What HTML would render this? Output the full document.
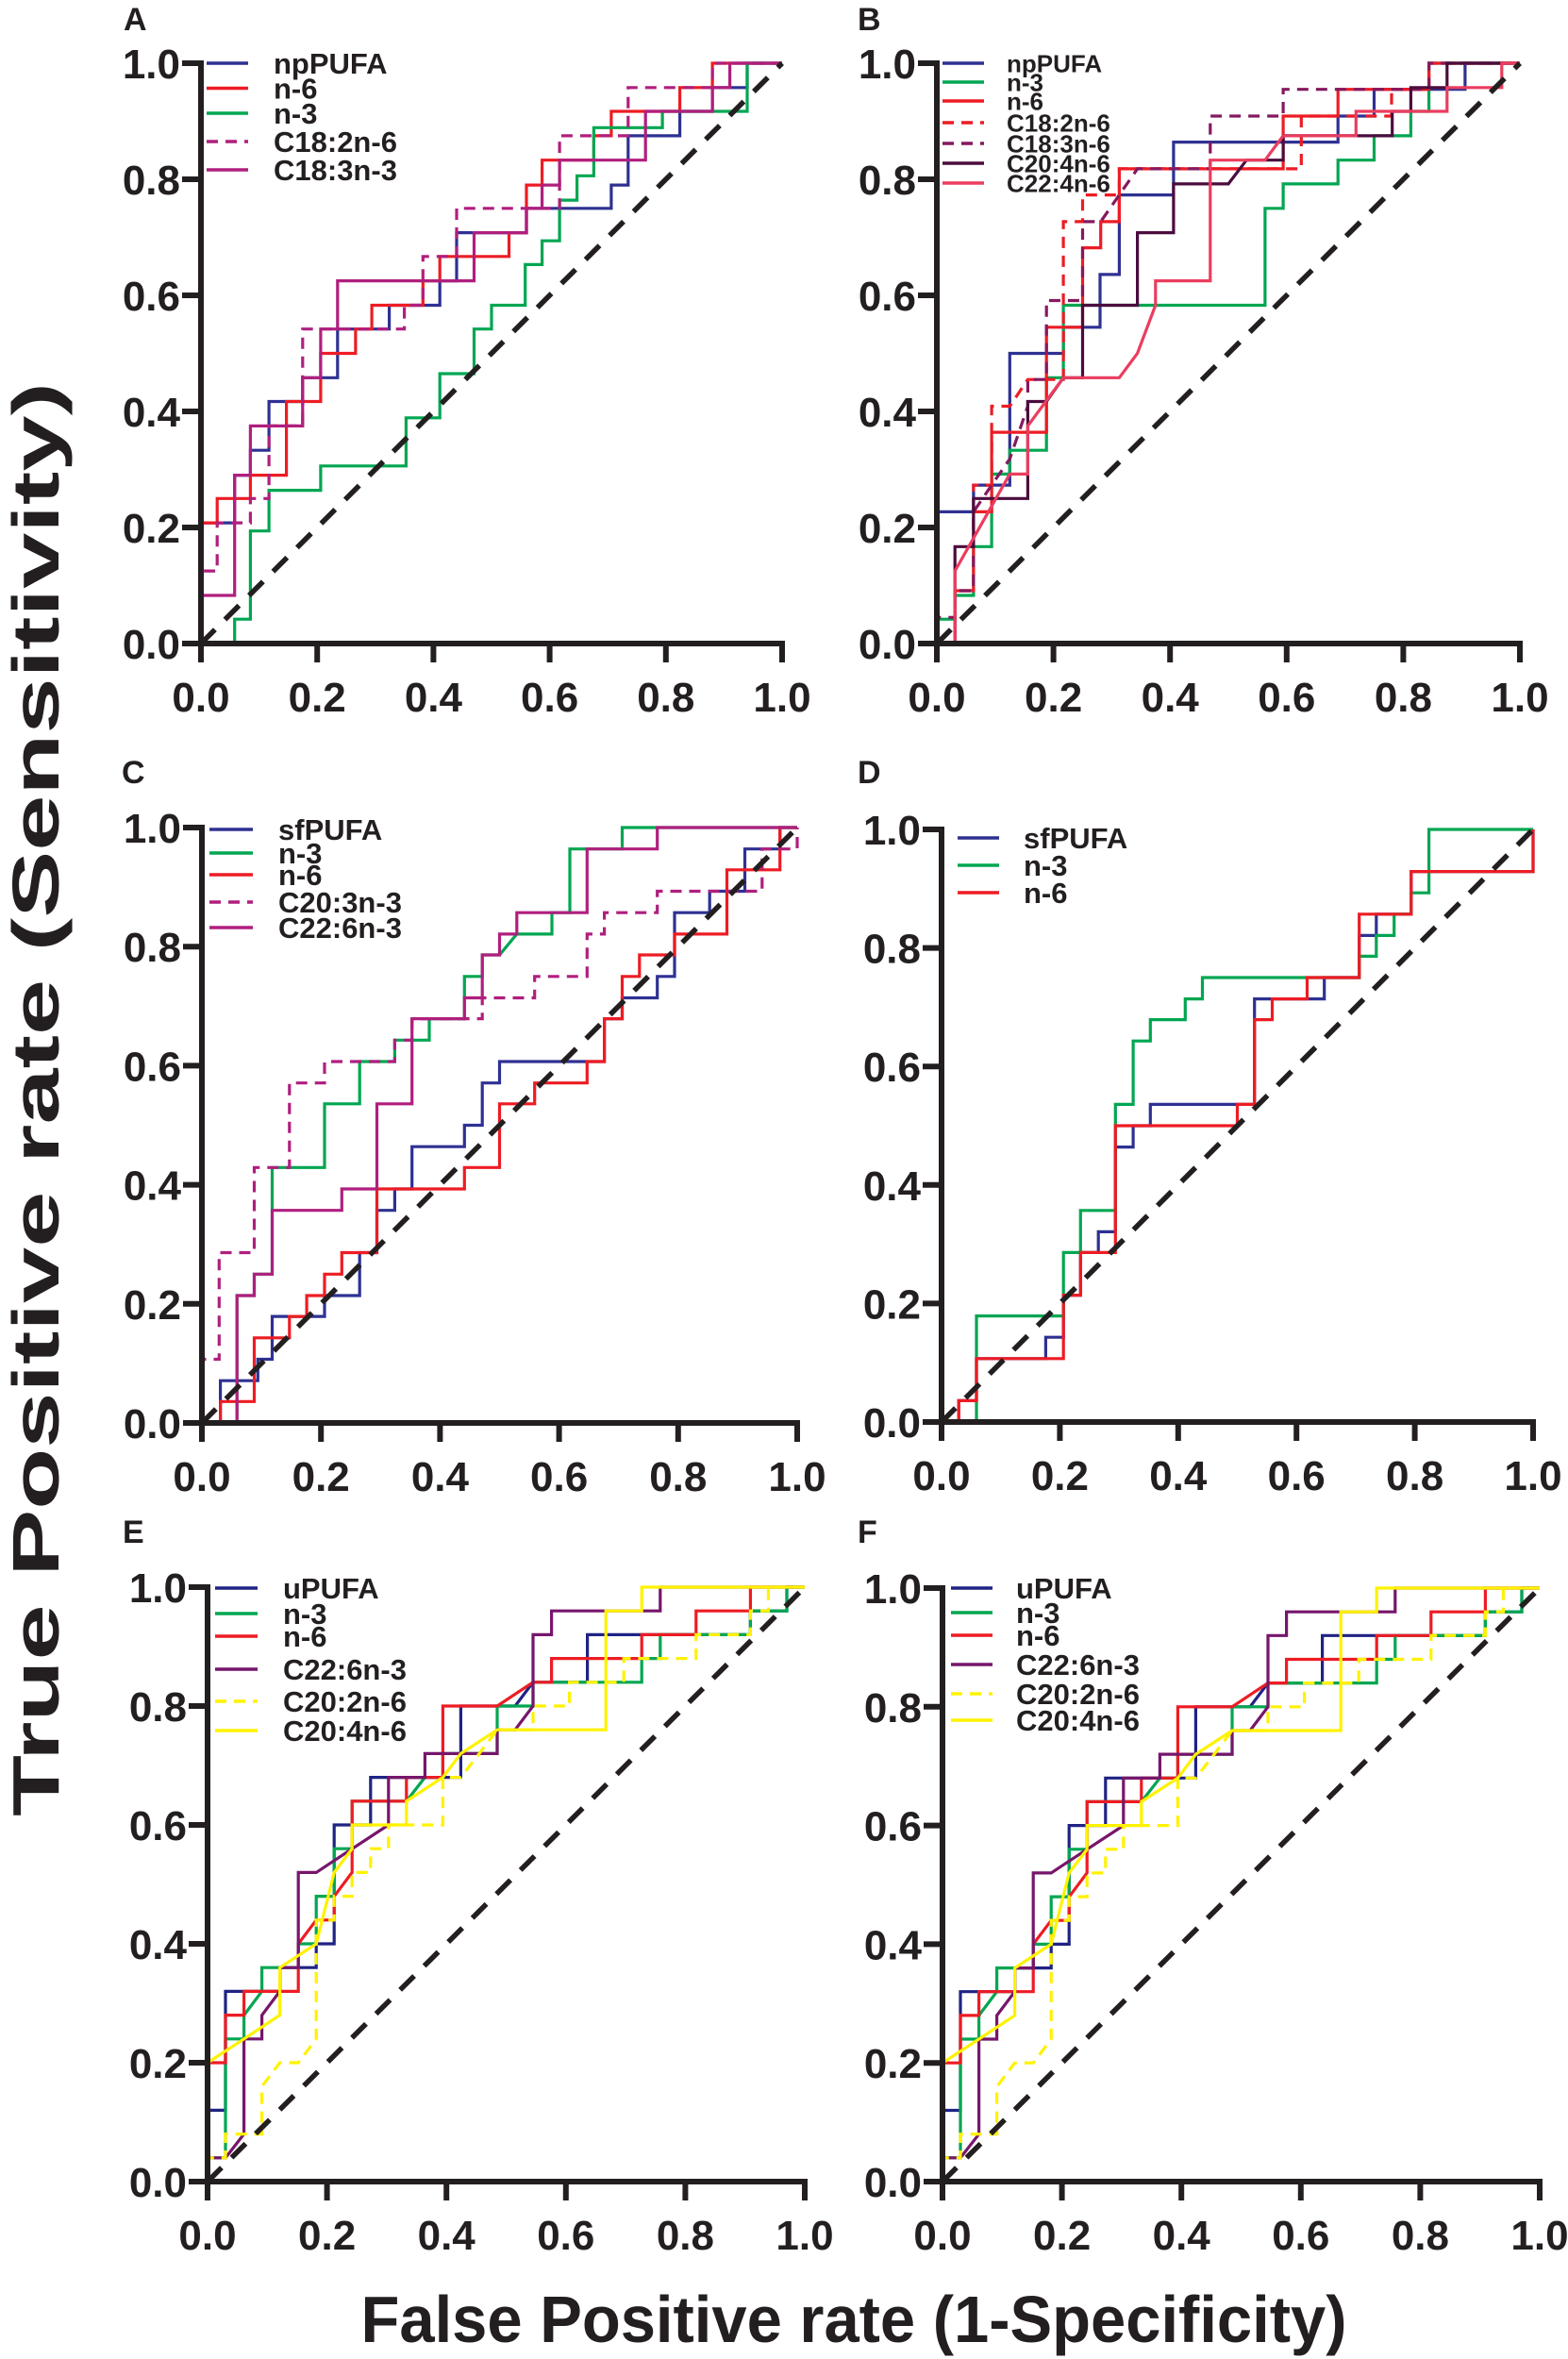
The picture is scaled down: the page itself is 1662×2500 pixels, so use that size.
<!DOCTYPE html>
<html><head><meta charset="utf-8"><style>
html,body{margin:0;padding:0;background:#fff}
svg{display:block}
text{font-family:"Liberation Sans",Arial,sans-serif;font-weight:bold;fill:#231f20}
</style></head><body>
<svg id="fig" width="1662" height="2500" viewBox="0 0 1662 2500" xmlns="http://www.w3.org/2000/svg">
<text x="0" y="0" font-size="70" text-anchor="middle" transform="translate(62,1165) rotate(-90)" textLength="1520" lengthAdjust="spacingAndGlyphs">True Positive rate (Sensitivity)</text>
<text x="905" y="2482" font-size="70" text-anchor="middle" textLength="1045" lengthAdjust="spacingAndGlyphs">False Positive rate (1-Specificity)</text>
</svg>
<script>
// ---- data: tick labels ----
const tickValues = [0, 0.2, 0.4, 0.6, 0.8, 1.0];
const tickLabels = ["0.0", "0.2", "0.4", "0.6", "0.8", "1.0"];
const diagonal = [[0,0],[1,1]];

// ---- Panel A ----
const A_npPUFA = [[0,0],[0,0.208],[0.058,0.208],[0.058,0.29],[0.085,0.29],[0.085,0.333],[0.117,0.333],[0.117,0.417],[0.175,0.417],[0.175,0.458],[0.235,0.458],[0.235,0.542],[0.324,0.542],[0.324,0.583],[0.411,0.583],[0.411,0.625],[0.44,0.625],[0.44,0.708],[0.56,0.708],[0.56,0.75],[0.706,0.75],[0.706,0.79],[0.735,0.79],[0.735,0.875],[0.824,0.875],[0.824,0.917],[0.88,0.917],[0.88,0.958],[0.94,0.958],[0.94,1],[1,1]];
const A_n6 = [[0,0],[0,0.208],[0.028,0.208],[0.028,0.25],[0.085,0.25],[0.085,0.29],[0.147,0.29],[0.147,0.417],[0.206,0.417],[0.206,0.5],[0.266,0.5],[0.266,0.542],[0.294,0.542],[0.294,0.583],[0.382,0.583],[0.382,0.625],[0.411,0.625],[0.411,0.667],[0.53,0.667],[0.53,0.708],[0.56,0.708],[0.56,0.79],[0.587,0.79],[0.587,0.833],[0.676,0.833],[0.676,0.875],[0.706,0.875],[0.706,0.917],[0.824,0.917],[0.824,0.958],[0.88,0.958],[0.88,1],[1,1]];
const A_n3 = [[0,0],[0.058,0],[0.058,0.042],[0.085,0.042],[0.085,0.194],[0.117,0.194],[0.117,0.264],[0.206,0.264],[0.206,0.306],[0.353,0.306],[0.353,0.389],[0.411,0.389],[0.411,0.465],[0.47,0.465],[0.47,0.542],[0.5,0.542],[0.5,0.583],[0.558,0.583],[0.558,0.653],[0.587,0.653],[0.587,0.694],[0.617,0.694],[0.617,0.764],[0.647,0.764],[0.647,0.806],[0.676,0.806],[0.676,0.889],[0.794,0.889],[0.794,0.917],[0.94,0.917],[0.94,1],[1,1]];
const A_c182 = [[0,0],[0,0.125],[0.028,0.125],[0.028,0.208],[0.085,0.208],[0.085,0.25],[0.117,0.25],[0.117,0.375],[0.175,0.375],[0.175,0.542],[0.35,0.542],[0.35,0.583],[0.382,0.583],[0.382,0.667],[0.44,0.667],[0.44,0.75],[0.617,0.75],[0.617,0.875],[0.735,0.875],[0.735,0.958],[0.88,0.958],[0.88,1],[1,1]];
const A_c183 = [[0,0],[0,0.083],[0.058,0.083],[0.058,0.29],[0.085,0.29],[0.085,0.375],[0.175,0.375],[0.175,0.458],[0.206,0.458],[0.206,0.542],[0.235,0.542],[0.235,0.625],[0.47,0.625],[0.47,0.708],[0.56,0.708],[0.56,0.75],[0.587,0.75],[0.587,0.79],[0.617,0.79],[0.617,0.833],[0.765,0.833],[0.765,0.917],[0.88,0.917],[0.88,0.958],[0.91,0.958],[0.91,1],[1,1]];

// ---- Panel B ----
const B_npPUFA = [[0,0],[0,0.227],[0.063,0.227],[0.063,0.273],[0.125,0.273],[0.125,0.5],[0.217,0.5],[0.217,0.545],[0.28,0.545],[0.28,0.636],[0.313,0.636],[0.313,0.773],[0.406,0.773],[0.406,0.864],[0.688,0.864],[0.688,0.909],[0.75,0.909],[0.75,0.955],[0.906,0.955],[0.906,1],[1,1]];
const B_n3 = [[0,0],[0,0.042],[0.031,0.042],[0.031,0.083],[0.063,0.083],[0.063,0.167],[0.094,0.167],[0.094,0.292],[0.125,0.292],[0.125,0.333],[0.188,0.333],[0.188,0.458],[0.217,0.458],[0.217,0.583],[0.563,0.583],[0.563,0.75],[0.594,0.75],[0.594,0.792],[0.688,0.792],[0.688,0.833],[0.75,0.833],[0.75,0.875],[0.813,0.875],[0.813,0.917],[0.844,0.917],[0.844,1],[1,1]];
const B_n6 = [[0,0],[0.031,0],[0.031,0.091],[0.063,0.091],[0.063,0.227],[0.094,0.227],[0.094,0.364],[0.188,0.364],[0.188,0.545],[0.25,0.545],[0.25,0.682],[0.281,0.682],[0.281,0.727],[0.313,0.727],[0.313,0.818],[0.594,0.818],[0.594,0.909],[0.688,0.909],[0.688,0.955],[0.844,0.955],[0.844,1],[1,1]];
const B_c182 = [[0,0],[0.031,0],[0.031,0.091],[0.063,0.091],[0.063,0.273],[0.094,0.273],[0.094,0.409],[0.125,0.409],[0.156,0.455],[0.217,0.455],[0.217,0.727],[0.25,0.727],[0.25,0.773],[0.313,0.773],[0.313,0.818],[0.625,0.818],[0.625,0.909],[0.78,0.909],[0.78,0.955],[0.844,0.955],[0.844,1],[1,1]];
const B_c183 = [[0,0],[0,0.045],[0.031,0.045],[0.031,0.091],[0.063,0.091],[0.063,0.227],[0.094,0.273],[0.125,0.318],[0.156,0.409],[0.156,0.455],[0.188,0.455],[0.188,0.591],[0.25,0.591],[0.25,0.727],[0.281,0.727],[0.344,0.818],[0.469,0.818],[0.469,0.909],[0.594,0.909],[0.594,0.955],[0.844,0.955],[0.844,1],[1,1]];
const B_c204 = [[0,0],[0.031,0],[0.031,0.167],[0.063,0.167],[0.063,0.25],[0.156,0.25],[0.156,0.417],[0.188,0.417],[0.217,0.458],[0.25,0.458],[0.25,0.583],[0.344,0.583],[0.344,0.708],[0.406,0.708],[0.406,0.792],[0.5,0.792],[0.531,0.833],[0.594,0.833],[0.594,0.875],[0.781,0.875],[0.781,0.917],[0.813,0.917],[0.813,0.958],[0.875,0.958],[0.875,1],[1,1]];
const B_c224 = [[0,0],[0.031,0],[0.031,0.125],[0.125,0.292],[0.156,0.292],[0.156,0.375],[0.217,0.458],[0.313,0.458],[0.344,0.5],[0.375,0.583],[0.375,0.625],[0.469,0.625],[0.469,0.833],[0.563,0.833],[0.594,0.875],[0.719,0.875],[0.719,0.917],[0.875,0.917],[0.875,0.958],[0.969,0.958],[0.969,1],[1,1]];

// ---- Panel C ----
const C_sfPUFA = [[0,0],[0.031,0],[0.031,0.071],[0.094,0.071],[0.094,0.107],[0.118,0.107],[0.118,0.179],[0.206,0.179],[0.206,0.214],[0.265,0.214],[0.265,0.286],[0.294,0.286],[0.294,0.357],[0.324,0.357],[0.324,0.393],[0.353,0.393],[0.353,0.464],[0.441,0.464],[0.441,0.5],[0.471,0.5],[0.471,0.571],[0.5,0.571],[0.5,0.607],[0.676,0.607],[0.676,0.679],[0.706,0.679],[0.706,0.714],[0.765,0.714],[0.765,0.75],[0.794,0.75],[0.794,0.857],[0.853,0.857],[0.853,0.893],[0.912,0.893],[0.912,0.964],[0.971,0.964],[0.971,1],[1,1]];
const C_n3 = [[0,0],[0.059,0],[0.059,0.214],[0.088,0.214],[0.088,0.25],[0.118,0.25],[0.118,0.429],[0.206,0.429],[0.206,0.536],[0.265,0.536],[0.265,0.607],[0.324,0.607],[0.324,0.643],[0.382,0.643],[0.382,0.679],[0.441,0.679],[0.441,0.75],[0.471,0.75],[0.471,0.786],[0.5,0.786],[0.529,0.821],[0.588,0.821],[0.588,0.857],[0.618,0.857],[0.618,0.964],[0.706,0.964],[0.706,1],[1,1]];
const C_n6 = [[0,0],[0.031,0],[0.031,0.036],[0.088,0.036],[0.088,0.143],[0.147,0.143],[0.147,0.179],[0.176,0.179],[0.176,0.214],[0.206,0.214],[0.206,0.25],[0.235,0.25],[0.235,0.286],[0.294,0.286],[0.294,0.393],[0.441,0.393],[0.441,0.429],[0.5,0.429],[0.5,0.536],[0.559,0.536],[0.559,0.571],[0.647,0.571],[0.647,0.607],[0.676,0.607],[0.676,0.679],[0.706,0.679],[0.706,0.75],[0.735,0.75],[0.735,0.786],[0.794,0.786],[0.794,0.821],[0.882,0.821],[0.882,0.929],[0.971,0.929],[0.971,1],[1,1]];
const C_c203 = [[0,0],[0,0.107],[0.029,0.107],[0.029,0.286],[0.088,0.286],[0.088,0.429],[0.147,0.429],[0.147,0.571],[0.206,0.571],[0.206,0.607],[0.324,0.607],[0.324,0.643],[0.353,0.643],[0.353,0.679],[0.471,0.679],[0.471,0.714],[0.559,0.714],[0.559,0.75],[0.647,0.75],[0.647,0.821],[0.676,0.821],[0.676,0.857],[0.765,0.857],[0.765,0.893],[0.941,0.893],[0.941,0.964],[1,0.964],[1,1]];
const C_c226 = [[0,0],[0.059,0],[0.059,0.214],[0.088,0.214],[0.088,0.25],[0.118,0.25],[0.118,0.357],[0.235,0.357],[0.235,0.393],[0.294,0.393],[0.294,0.536],[0.353,0.536],[0.353,0.679],[0.441,0.679],[0.441,0.714],[0.471,0.714],[0.471,0.786],[0.5,0.786],[0.5,0.821],[0.529,0.821],[0.529,0.857],[0.647,0.857],[0.647,0.964],[0.765,0.964],[0.765,1],[1,1]];

// ---- Panel D ----
const D_sfPUFA = [[0,0],[0.029,0],[0.029,0.036],[0.059,0.036],[0.059,0.107],[0.176,0.107],[0.176,0.143],[0.206,0.143],[0.206,0.214],[0.235,0.214],[0.235,0.286],[0.265,0.286],[0.265,0.321],[0.294,0.321],[0.294,0.464],[0.324,0.464],[0.324,0.5],[0.353,0.5],[0.353,0.536],[0.529,0.536],[0.529,0.714],[0.647,0.714],[0.647,0.75],[0.706,0.75],[0.706,0.821],[0.735,0.821],[0.735,0.857],[0.794,0.857],[0.794,0.929],[1,0.929],[1,1]];
const D_n3 = [[0,0],[0.059,0],[0.059,0.179],[0.206,0.179],[0.206,0.286],[0.235,0.286],[0.235,0.357],[0.294,0.357],[0.294,0.536],[0.324,0.536],[0.324,0.643],[0.353,0.643],[0.353,0.679],[0.412,0.679],[0.412,0.714],[0.441,0.714],[0.441,0.75],[0.706,0.75],[0.706,0.786],[0.735,0.786],[0.735,0.821],[0.765,0.821],[0.765,0.857],[0.794,0.857],[0.794,0.893],[0.824,0.893],[0.824,1],[1,1]];
const D_n6 = [[0,0],[0.029,0],[0.029,0.036],[0.059,0.036],[0.059,0.107],[0.206,0.107],[0.206,0.214],[0.235,0.214],[0.235,0.286],[0.294,0.286],[0.294,0.5],[0.5,0.5],[0.5,0.536],[0.529,0.536],[0.529,0.679],[0.559,0.679],[0.559,0.714],[0.618,0.714],[0.618,0.75],[0.706,0.75],[0.706,0.857],[0.794,0.857],[0.794,0.929],[1,0.929],[1,1]];

// ---- Panels E & F (same data) ----
const E_uPUFA = [[0,0],[0,0.12],[0.03,0.12],[0.03,0.32],[0.121,0.32],[0.121,0.36],[0.182,0.36],[0.182,0.4],[0.212,0.4],[0.212,0.6],[0.273,0.6],[0.273,0.68],[0.424,0.68],[0.424,0.8],[0.515,0.8],[0.545,0.84],[0.636,0.84],[0.636,0.92],[0.909,0.92],[0.909,0.96],[0.97,0.96],[0.97,1],[1,1]];
const E_n3 = [[0,0],[0,0.04],[0.03,0.04],[0.03,0.24],[0.061,0.24],[0.061,0.28],[0.091,0.32],[0.091,0.36],[0.152,0.36],[0.152,0.4],[0.182,0.4],[0.182,0.48],[0.212,0.48],[0.212,0.56],[0.242,0.56],[0.242,0.64],[0.333,0.64],[0.364,0.68],[0.394,0.68],[0.394,0.72],[0.485,0.72],[0.485,0.8],[0.545,0.8],[0.545,0.84],[0.727,0.84],[0.727,0.88],[0.758,0.88],[0.758,0.92],[0.909,0.92],[0.909,0.96],[0.97,0.96],[0.97,1],[1,1]];
const E_n6 = [[0,0],[0,0.2],[0.03,0.2],[0.03,0.28],[0.061,0.28],[0.061,0.32],[0.152,0.32],[0.152,0.4],[0.182,0.44],[0.212,0.44],[0.212,0.48],[0.242,0.52],[0.242,0.64],[0.333,0.64],[0.333,0.68],[0.394,0.68],[0.394,0.8],[0.485,0.8],[0.545,0.84],[0.576,0.84],[0.576,0.88],[0.727,0.88],[0.727,0.92],[0.818,0.92],[0.818,0.96],[0.909,0.96],[0.909,1],[1,1]];
const E_c226 = [[0,0],[0,0.04],[0.03,0.04],[0.061,0.08],[0.061,0.24],[0.091,0.24],[0.091,0.28],[0.121,0.32],[0.121,0.36],[0.152,0.36],[0.152,0.52],[0.182,0.52],[0.212,0.54],[0.303,0.6],[0.303,0.68],[0.364,0.68],[0.364,0.72],[0.485,0.72],[0.485,0.76],[0.515,0.76],[0.545,0.8],[0.545,0.92],[0.576,0.92],[0.576,0.96],[0.758,0.96],[0.758,1],[1,1]];
const E_c202 = [[0,0],[0,0.04],[0.03,0.04],[0.03,0.08],[0.091,0.08],[0.091,0.16],[0.121,0.2],[0.152,0.2],[0.182,0.24],[0.182,0.44],[0.212,0.44],[0.212,0.48],[0.242,0.48],[0.242,0.52],[0.273,0.52],[0.273,0.56],[0.303,0.56],[0.303,0.6],[0.394,0.6],[0.394,0.68],[0.424,0.68],[0.455,0.72],[0.485,0.76],[0.545,0.76],[0.545,0.8],[0.606,0.8],[0.606,0.84],[0.697,0.84],[0.697,0.88],[0.818,0.88],[0.818,0.92],[0.909,0.92],[0.909,0.96],[0.939,0.96],[0.939,1],[1,1]];
const E_c204 = [[0,0],[0,0.2],[0.061,0.24],[0.121,0.28],[0.121,0.36],[0.182,0.4],[0.212,0.52],[0.242,0.56],[0.242,0.6],[0.333,0.6],[0.333,0.64],[0.394,0.68],[0.424,0.72],[0.485,0.76],[0.667,0.76],[0.667,0.96],[0.727,0.96],[0.727,1],[1,1]];

const BLUE="#2e3192", RED="#ed1c24", GREEN="#00a651", MAG="#b01f7e", PURP="#76166b", MAROON="#4b0c3d", DPURP="#85195f", PINK="#ea3d5f", YEL="#fff200";

const panels = [
 {id:"A", x0:213, x1:829, y0:682, y1:67, lx:131, ly:32, leg:{l0:219,l1:263,tx:290,fs:31,rows:[67,93.5,120,150,180]},
  series:[["npPUFA",A_npPUFA,BLUE,false],["n-6",A_n6,RED,false],["n-3",A_n3,GREEN,false],["C18:2n-6",A_c182,MAG,true],["C18:3n-3",A_c183,MAG,false]]},
 {id:"B", x0:993, x1:1611, y0:682, y1:67, lx:909, ly:32, leg:{l0:999,l1:1043,tx:1067,fs:26,rows:[67,87,107,130,152,173,194]},
  series:[["npPUFA",B_npPUFA,BLUE,false],["n-3",B_n3,GREEN,false],["n-6",B_n6,RED,false],["C18:2n-6",B_c182,RED,true],["C18:3n-6",B_c183,DPURP,true],["C20:4n-6",B_c204,MAROON,false],["C22:4n-6",B_c224,PINK,false]]},
 {id:"C", x0:214, x1:845, y0:1508, y1:877, lx:129, ly:830, leg:{l0:222,l1:268,tx:295,fs:31,rows:[879,904,927,956,983]},
  series:[["sfPUFA",C_sfPUFA,BLUE,false],["n-3",C_n3,GREEN,false],["n-6",C_n6,RED,false],["C20:3n-3",C_c203,MAG,true],["C22:6n-3",C_c226,MAG,false]]},
 {id:"D", x0:998, x1:1625, y0:1507, y1:879, lx:909, ly:830, leg:{l0:1015,l1:1059,tx:1085,fs:31,rows:[888,917,946]},
  series:[["sfPUFA",D_sfPUFA,BLUE,false],["n-3",D_n3,GREEN,false],["n-6",D_n6,RED,false]]},
 {id:"E", x0:220, x1:853, y0:2312, y1:1682, lx:130, ly:1635, leg:{l0:228,l1:273,tx:300,fs:31,rows:[1683,1710,1734,1769,1803,1834]},
  series:[["uPUFA",E_uPUFA,"#1f2383",false],["n-3",E_n3,GREEN,false],["n-6",E_n6,RED,false],["C22:6n-3",E_c226,PURP,false],["C20:2n-6",E_c202,YEL,true],["C20:4n-6",E_c204,YEL,false]]},
 {id:"F", x0:999, x1:1632, y0:2312, y1:1683, lx:909, ly:1635, leg:{l0:1008,l1:1052,tx:1077,fs:31,rows:[1683,1709,1733,1764,1795,1823]},
  series:[["uPUFA",E_uPUFA,"#1f2383",false],["n-3",E_n3,GREEN,false],["n-6",E_n6,RED,false],["C22:6n-3",E_c226,PURP,false],["C20:2n-6",E_c202,YEL,true],["C20:4n-6",E_c204,YEL,false]]}
];

const NS="http://www.w3.org/2000/svg";
const svg=document.getElementById("fig");
function mk(tag, attrs, parent){const e=document.createElementNS(NS,tag);for(const k in attrs)e.setAttribute(k,attrs[k]);(parent||svg).appendChild(e);return e;}

panels.forEach(p=>{
  const g=mk("g",{});
  
  
  const sx=v=>p.x0+v*(p.x1-p.x0);
  const sy=v=>p.y0-v*(p.y0-p.y1);
  const lab=mk("text",{x:p.lx,y:p.ly,"font-size":34},g);
  lab.textContent=p.id;
  
  
  p.series.forEach(s=>{
    const pts=s[1].map(d=>sx(d[0]).toFixed(1)+","+sy(d[1]).toFixed(1)).join(" ");
    const pl=mk("polyline",{points:pts,fill:"none",stroke:s[2],"stroke-width":3.2,"stroke-linejoin":"miter"},g);
    if(s[3]) pl.setAttribute("stroke-dasharray","12,8");
    
    
  });
  const dg=mk("line",{x1:sx(diagonal[0][0]),y1:sy(diagonal[0][1]),x2:sx(diagonal[1][0]),y2:sy(diagonal[1][1]),stroke:"#231f20","stroke-width":5.5,"stroke-dasharray":"21,15"},g);
  
  
  const ya=mk("line",{x1:p.x0,y1:p.y0+3,x2:p.x0,y2:p.y1-3,stroke:"#231f20","stroke-width":6},g);
  
  
  const xa=mk("line",{x1:p.x0-20,y1:p.y0,x2:p.x1+3,y2:p.y0,stroke:"#231f20","stroke-width":6},g);
  
  
  tickValues.forEach((v,i)=>{
    mk("line",{x1:p.x0-20,y1:sy(v),x2:p.x0,y2:sy(v),stroke:"#231f20","stroke-width":6},g);
    mk("line",{x1:sx(v),y1:p.y0,x2:sx(v),y2:p.y0+20,stroke:"#231f20","stroke-width":6},g);
    const yt=mk("text",{x:p.x0-22,y:sy(v)+16,"font-size":44,"text-anchor":"end"},g);
    yt.textContent=tickLabels[i];
    
    
    const xt=mk("text",{x:sx(v),y:p.y0+72,"font-size":44,"text-anchor":"middle"},g);
    xt.textContent=tickLabels[i];
    
    
  });
  const lg=mk("g",{},g);
  
  
  p.series.forEach((s,i)=>{
    const ry=p.leg.rows[i];
    const ll=mk("line",{x1:p.leg.l0,y1:ry,x2:p.leg.l1,y2:ry,stroke:s[2],"stroke-width":3.5},lg);
    if(s[3]) ll.setAttribute("stroke-dasharray","12,8");
    const t=mk("text",{x:p.leg.tx,y:ry+p.leg.fs*0.36,"font-size":p.leg.fs},lg);
    t.textContent=s[0];
    
    
  });
});
</script>
</body></html>
